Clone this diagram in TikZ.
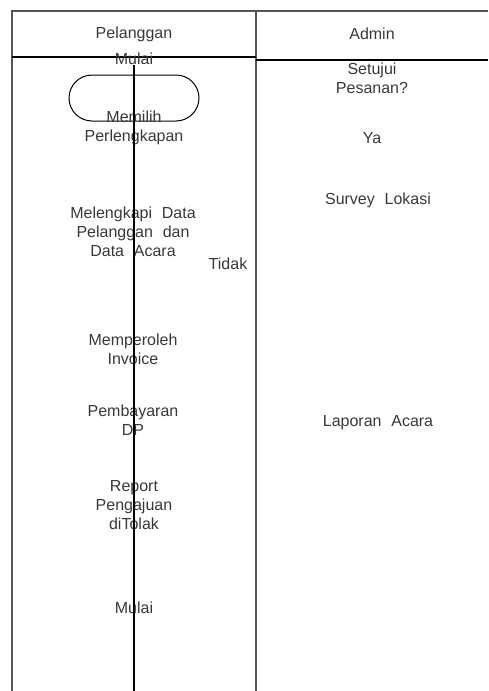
\documentclass[tikz,border=0pt]{standalone}
\usepackage{fontspec}
\setmainfont{Liberation Sans}[WordSpace=2.2]
\usepackage{xcolor}
\usepackage{tikz}
\definecolor{txtgray}{HTML}{383838}
\definecolor{rulegray}{HTML}{555555}

\begin{document}
\begin{tikzpicture}[x=1pt,y=-1pt,
    lbl/.style={font=\fontsize{16}{19}\selectfont,text=txtgray,align=center,inner sep=0pt}]
    \useasboundingbox (0,0) rectangle (488,691);
    % lanes
    \draw[rulegray,line width=1.2pt] (12,691) -- (12,11) -- (488,11);
    \draw[rulegray,line width=1.2pt] (256,11) -- (256,691);
    \draw[line width=1.2pt] (12,57) -- (256,57);
    \draw[line width=1.2pt] (256,60) -- (488,60);
    \node[lbl] (pel) at (134,34) {Pelanggan};
    \node[lbl] (adm) at (372,34) {Admin};
    % pelanggan
    \node[lbl] (mulai1) at (134,59) {Mulai};
    \node[draw,line width=1pt,rounded corners=23pt,minimum width=130,minimum height=46] (term) at (134,98) {};
    \node[lbl] (memilih) at (134,127.5) {Memilih\\Perlengkapan};
    \node[lbl] (lengkap) at (133,232) {Melengkapi Data\\Pelanggan dan\\Data Acara};
    \node[lbl] (tidak) at (228,264) {Tidak};
    \node[lbl] (invoice) at (133,349) {Memperoleh\\Invoice};
    \node[lbl] (dp) at (133,420) {Pembayaran\\DP};
    \node[lbl] (report) at (134,505) {Report\\Pengajuan\\diTolak};
    \node[lbl] (mulai2) at (134,608) {Mulai};
    % admin
    \node[lbl] (setujui) at (372,78) {Setujui\\Pesanan?};
    \node[lbl] (ya) at (372,138) {Ya};
    \node[lbl] (survey) at (378,200) {Survey Lokasi};
    \node[lbl] (laporan) at (378,423) {Laporan Acara};
    \coordinate (bot) at (134,691);
    \draw[line width=2pt] (mulai1) -- (bot);
\end{tikzpicture}
\end{document}
